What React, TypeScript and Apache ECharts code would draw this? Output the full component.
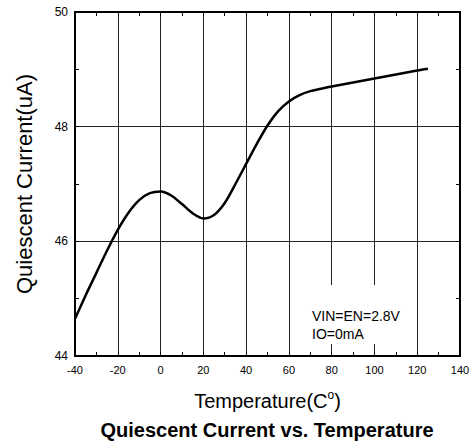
import React, { useEffect, useRef } from "react";
import * as echarts from "echarts";

const temperatures = [-40, -35, -30, -25, -20, -15, -10, -5, 0, 5, 10, 15, 20, 25, 30, 35, 40, 45, 50, 55, 60, 65, 70, 75, 80, 90, 100, 110, 120, 125];
const quiescentCurrent = [44.65, 45.06, 45.45, 45.84, 46.2, 46.5, 46.72, 46.84, 46.87, 46.8, 46.65, 46.49, 46.4, 46.46, 46.67, 47.0, 47.35, 47.7, 48.02, 48.27, 48.44, 48.55, 48.62, 48.66, 48.7, 48.77, 48.84, 48.91, 48.98, 49.01];
const noteLines = ["VIN=EN=2.8V", "IO=0mA"];
const chartTitle = "Quiescent Current vs. Temperature";
const xName = "Temperature(C{sup|o})";
const yName = "Quiescent Current(uA)";

const FONT = "'Liberation Sans', Arial, sans-serif";

export default function App() {
  const ref = useRef<HTMLDivElement>(null);
  useEffect(() => {
    document.body.style.margin = "0";
    if (!ref.current) return;
    const chart = echarts.init(ref.current, undefined, { renderer: "svg" });
    const axisCommon = {
      axisLine: { show: true, onZero: false, lineStyle: { color: "#000", width: 2 } },
      axisTick: { show: true, inside: true, length: 4, lineStyle: { color: "#000", width: 1 } },
      minorTick: { show: true, splitNumber: 2, length: 4, lineStyle: { color: "#000", width: 1 } },
    };
    const data = temperatures.map((t, i) => [t, quiescentCurrent[i]]);
    chart.setOption({
      animation: false,
      backgroundColor: "#fff",
      title: {
        text: chartTitle,
        left: 267,
        textAlign: "center",
        top: 420,
        padding: 0,
        textStyle: { fontFamily: FONT, fontSize: 20, fontWeight: "bold", color: "#000" },
      },
      grid: { left: 75, right: 13, top: 12, bottom: 91, show: true, borderColor: "#000", borderWidth: 2 },
      xAxis: [
        {
          type: "value",
          min: -40,
          max: 140,
          interval: 20,
          position: "bottom",
          ...axisCommon,
          axisLabel: { fontFamily: FONT, fontSize: 11, color: "#000", margin: 8 },
          splitLine: { show: true, lineStyle: { color: "#222", width: 1 } },
          name: xName,
          nameLocation: "middle",
          nameGap: 33,
          nameTextStyle: {
            fontFamily: FONT,
            fontSize: 20,
            color: "#000",
            rich: { sup: { fontFamily: FONT, fontSize: 12, color: "#000", padding: [0, 0, 12, 0] } },
          },
        },
        {
          type: "value",
          min: -40,
          max: 140,
          interval: 20,
          position: "top",
          ...axisCommon,
          axisLabel: { show: false },
          splitLine: { show: false },
        },
      ],
      yAxis: [
        {
          type: "value",
          min: 44,
          max: 50,
          interval: 2,
          position: "left",
          ...axisCommon,
          axisLabel: { fontFamily: FONT, fontSize: 12, color: "#000", margin: 7 },
          splitLine: { show: true, lineStyle: { color: "#222", width: 1 } },
          name: yName,
          nameLocation: "middle",
          nameGap: 40,
          nameTextStyle: { fontFamily: FONT, fontSize: 22, color: "#000" },
        },
        {
          type: "value",
          min: 44,
          max: 50,
          interval: 2,
          position: "right",
          ...axisCommon,
          axisLabel: { show: false },
          splitLine: { show: false },
        },
      ],
      series: [
        {
          type: "line",
          data,
          xAxisIndex: 0,
          yAxisIndex: 0,
          smooth: 0.3,
          showSymbol: false,
          symbol: "none",
          lineStyle: { color: "#000", width: 2.5 },
          z: 5,
        },
      ],
      graphic: [
        {
          type: "rect",
          z: 100,
          shape: { x: 300, y: 285, width: 105, height: 59 },
          style: { fill: "#fff" },
        },
        {
          type: "text",
          z: 101,
          x: 312,
          y: 316,
          style: { text: noteLines[0], fontFamily: FONT, fontSize: 14, fill: "#000", verticalAlign: "middle" },
        },
        {
          type: "text",
          z: 101,
          x: 312,
          y: 334,
          style: { text: noteLines[1], fontFamily: FONT, fontSize: 14, fill: "#000", verticalAlign: "middle" },
        },
      ],
    });
    return () => chart.dispose();
  }, []);
  return <div ref={ref} style={{ width: 473, height: 447 }} />;
}
